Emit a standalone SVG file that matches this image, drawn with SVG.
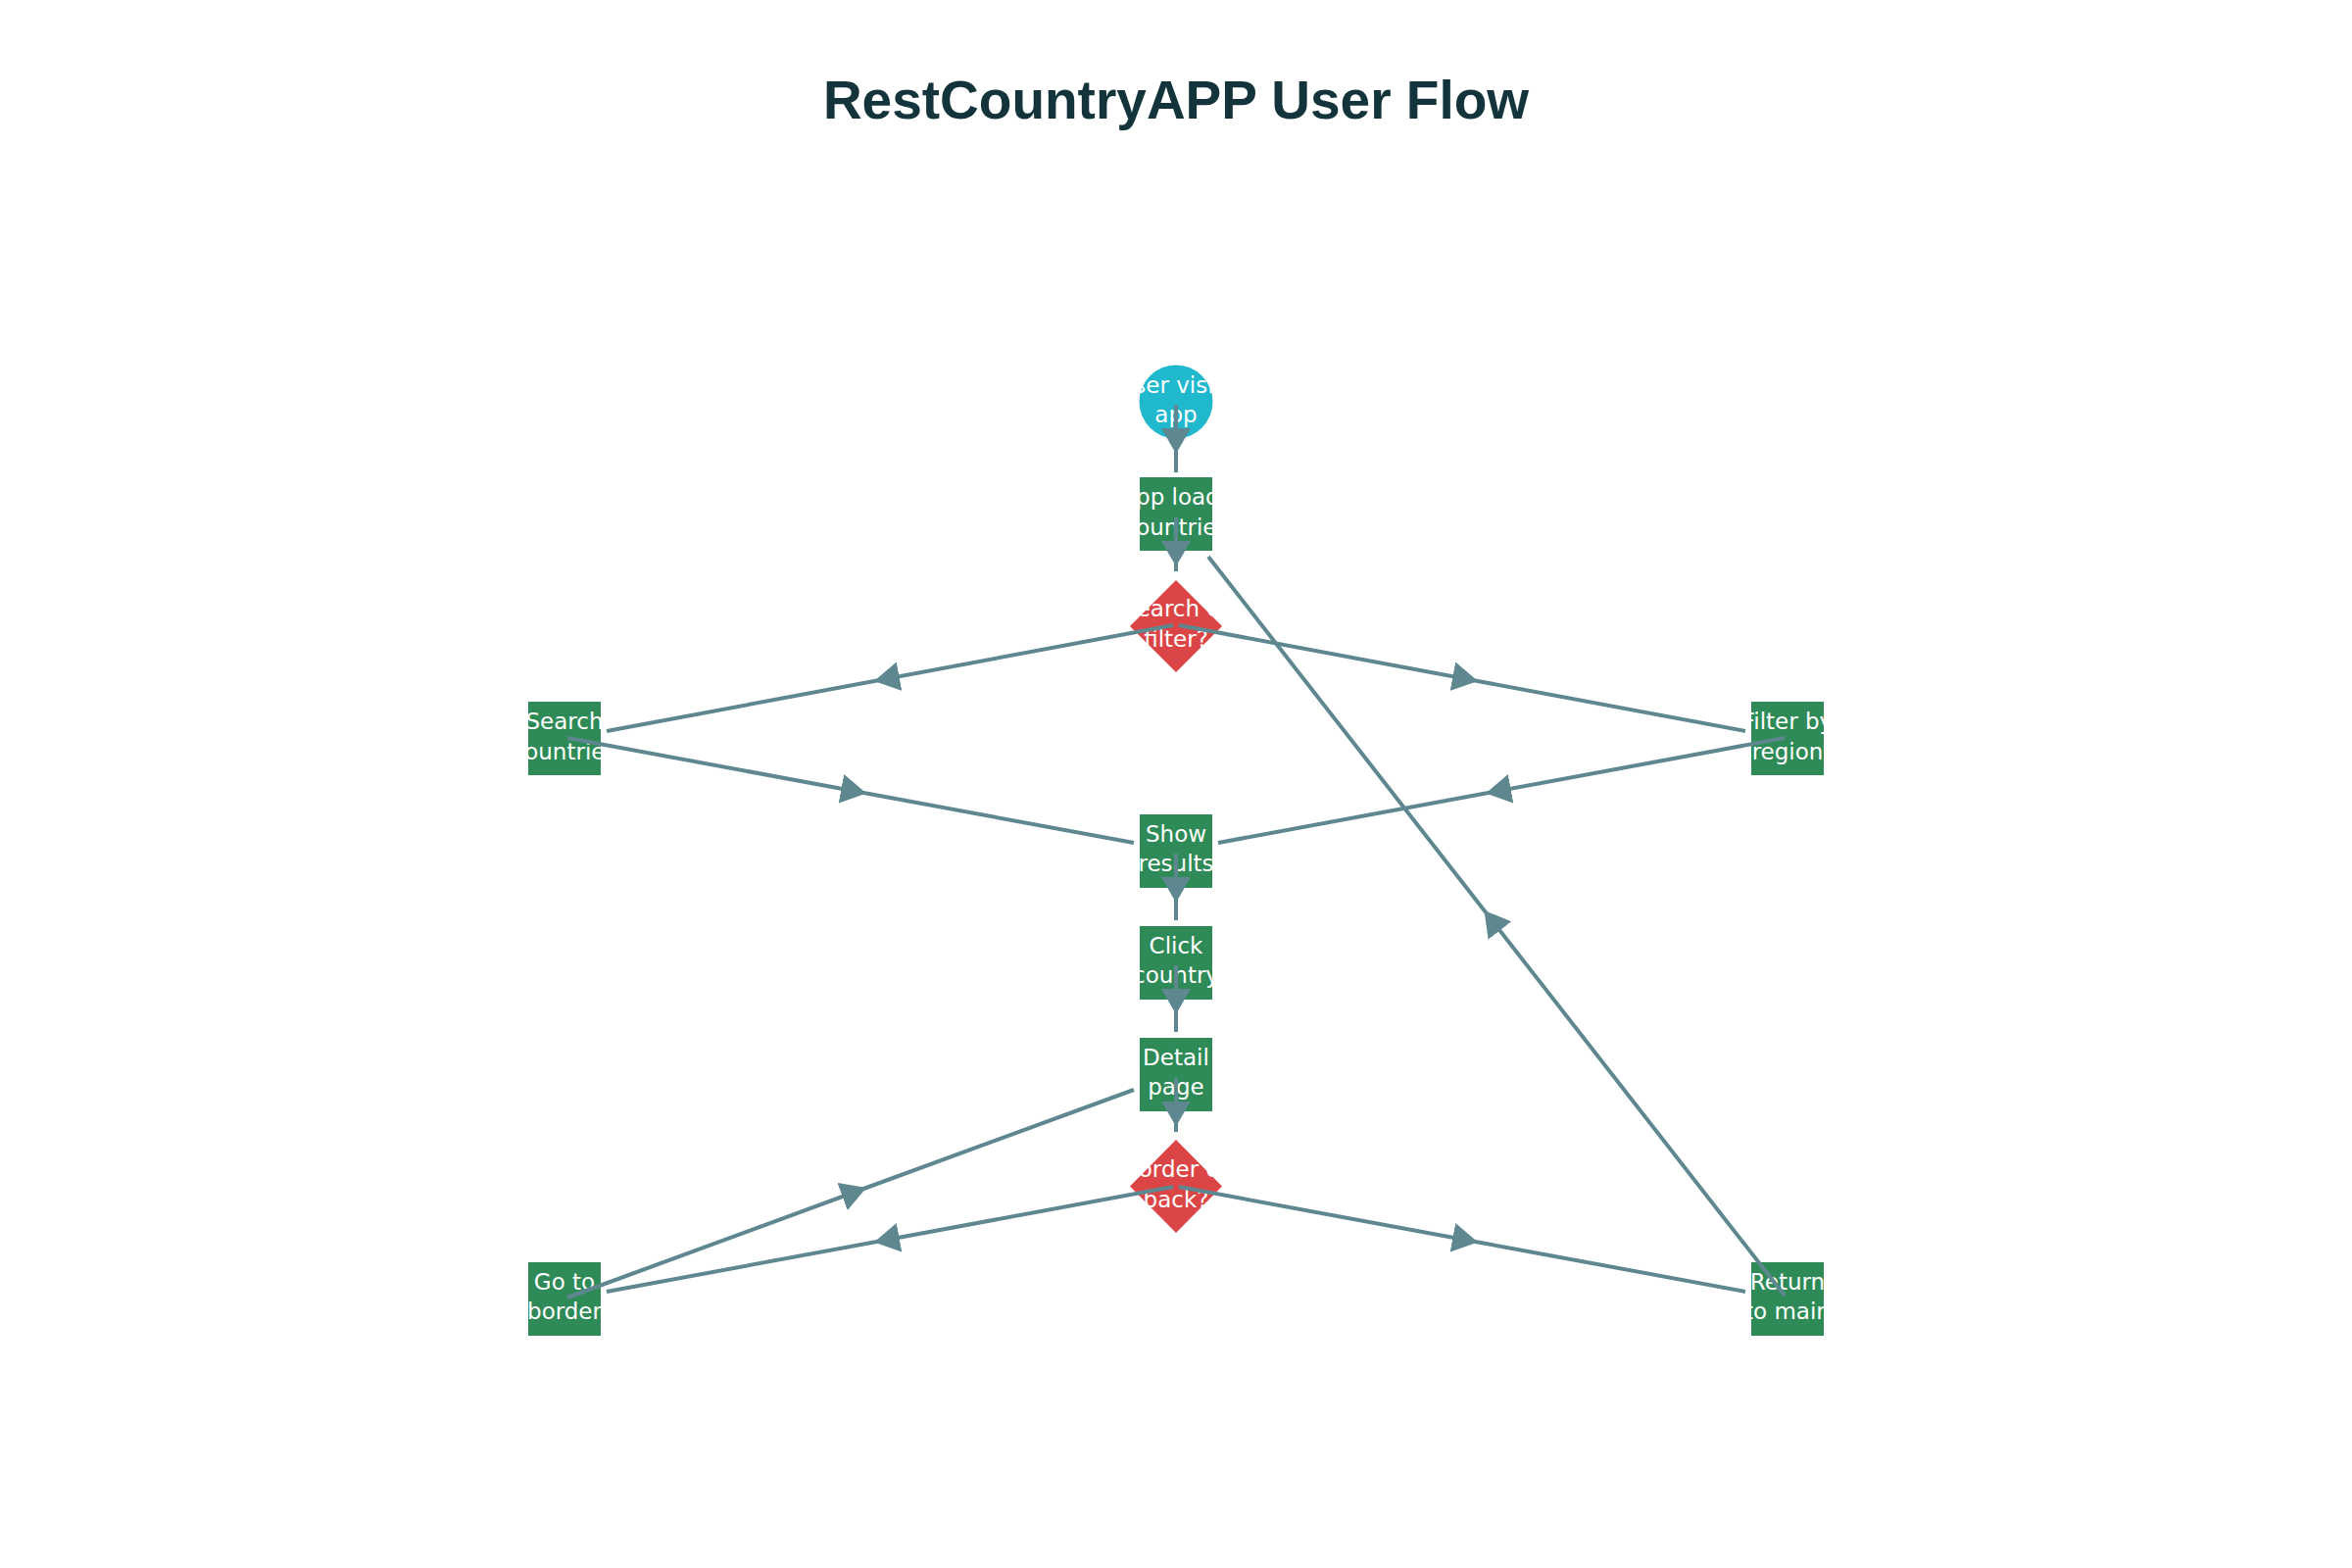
<svg xmlns="http://www.w3.org/2000/svg" width="2400" height="1600" viewBox="0 0 2400 1600">
<style>
.title{font-family:"Liberation Sans",Arial,sans-serif;font-weight:bold;font-size:55px;fill:#13343b;text-anchor:middle}
.lbl{font-family:"DejaVu Sans",sans-serif;font-size:23px;fill:#ffffff;text-anchor:middle}
.proc{fill:#2e8b57}
.start{fill:#1fb8cd}
.dec{fill:#db4545}
.edge{fill:none;stroke:#5e8790;stroke-width:4;marker-mid:url(#arr)}
</style>
<defs>
<marker id="arr" markerUnits="userSpaceOnUse" markerWidth="26" markerHeight="30" viewBox="0 0 26 30" refX="26" refY="15" orient="auto">
<path d="M0,0 L26,15 L0,30 Z" fill="#5e8790"/>
</marker>
<clipPath id="c1"><rect x="1163" y="372" width="74" height="76"/></clipPath>
<clipPath id="c2"><rect x="1163" y="487" width="74" height="75"/></clipPath>
<clipPath id="c3"><rect x="1163" y="592" width="74" height="95"/></clipPath>
<clipPath id="c4"><rect x="539" y="716" width="74" height="75"/></clipPath>
<clipPath id="c5"><rect x="1787" y="716" width="74" height="75"/></clipPath>
<clipPath id="c6"><rect x="1163" y="831" width="74" height="75"/></clipPath>
<clipPath id="c7"><rect x="1163" y="945" width="74" height="75"/></clipPath>
<clipPath id="c8"><rect x="1163" y="1059" width="74" height="75"/></clipPath>
<clipPath id="c9"><rect x="1163" y="1163" width="74" height="95"/></clipPath>
<clipPath id="c10"><rect x="539" y="1288" width="74" height="75"/></clipPath>
<clipPath id="c11"><rect x="1787" y="1288" width="74" height="75"/></clipPath>
</defs>
<rect width="2400" height="1600" fill="#ffffff"/>
<text class="title" x="1200" y="121">RestCountryAPP User Flow</text>

<g id="n-start">
<circle class="start" cx="1200" cy="410" r="37.5"/>
<text class="lbl" clip-path="url(#c1)"><tspan x="1200" y="401">User visits</tspan><tspan x="1200" y="431">app</tspan></text>
</g>
<g id="n-load">
<rect class="proc" x="1163" y="487" width="74" height="75"/>
<text class="lbl" clip-path="url(#c2)"><tspan x="1200" y="515">App loads</tspan><tspan x="1200" y="545.5">countries</tspan></text>
</g>
<g id="n-choice">
<polygon class="dec" points="1200,592 1247,639 1200,686 1153,639"/>
<text class="lbl" clip-path="url(#c3)"><tspan x="1200" y="629">Search or</tspan><tspan x="1200" y="660">filter?</tspan></text>
</g>
<g id="n-search">
<rect class="proc" x="539" y="716" width="74" height="75"/>
<text class="lbl" clip-path="url(#c4)"><tspan x="576" y="744">Search</tspan><tspan x="576" y="774.5">countries</tspan></text>
</g>
<g id="n-filter">
<rect class="proc" x="1787" y="716" width="74" height="75"/>
<text class="lbl" clip-path="url(#c5)"><tspan x="1824" y="744">Filter by</tspan><tspan x="1824" y="774.5">region</tspan></text>
</g>
<g id="n-results">
<rect class="proc" x="1163" y="831" width="74" height="75"/>
<text class="lbl" clip-path="url(#c6)"><tspan x="1200" y="858.5">Show</tspan><tspan x="1200" y="889">results</tspan></text>
</g>
<g id="n-click">
<rect class="proc" x="1163" y="945" width="74" height="75"/>
<text class="lbl" clip-path="url(#c7)"><tspan x="1200" y="972.5">Click</tspan><tspan x="1200" y="1003">country</tspan></text>
</g>
<g id="n-detail">
<rect class="proc" x="1163" y="1059" width="74" height="75"/>
<text class="lbl" clip-path="url(#c8)"><tspan x="1200" y="1086.5">Detail</tspan><tspan x="1200" y="1117">page</tspan></text>
</g>
<g id="n-choice2">
<polygon class="dec" points="1200,1163 1247,1210.5 1200,1258 1153,1210.5"/>
<text class="lbl" clip-path="url(#c9)"><tspan x="1200" y="1200.5">Border or</tspan><tspan x="1200" y="1232">back?</tspan></text>
</g>
<g id="n-border">
<rect class="proc" x="539" y="1288" width="74" height="75"/>
<text class="lbl" clip-path="url(#c10)"><tspan x="576" y="1315.5">Go to</tspan><tspan x="576" y="1346">border</tspan></text>
</g>
<g id="n-main">
<rect class="proc" x="1787" y="1288" width="74" height="75"/>
<text class="lbl" clip-path="url(#c11)"><tspan x="1824" y="1315.5">Return</tspan><tspan x="1824" y="1346">to main</tspan></text>
</g>

<g id="connectors">
<polyline class="edge" points="1200,413 1200,463 1200,482"/>
<polyline class="edge" points="1200,528 1200,578 1200,583"/>
<polyline class="edge" points="1197,638 892,695 619,746"/>
<polyline class="edge" points="1203,638 1508,695 1781,746"/>
<polyline class="edge" points="579,753 884,809.5 1157,860"/>
<polyline class="edge" points="1821,753 1516,809.5 1243,860"/>
<polyline class="edge" points="1200,871 1200,921 1200,939"/>
<polyline class="edge" points="1200,985 1200,1035 1200,1053"/>
<polyline class="edge" points="1200,1100 1200,1149.5 1200,1155"/>
<polyline class="edge" points="1197,1211 892,1267.5 619,1318"/>
<polyline class="edge" points="1203,1211 1508,1267.5 1781,1318"/>
<polyline class="edge" points="579,1324 884,1212 1157,1112"/>
<polyline class="edge" points="1821,1322 1514.5,929 1233,568"/>
</g>
</svg>
